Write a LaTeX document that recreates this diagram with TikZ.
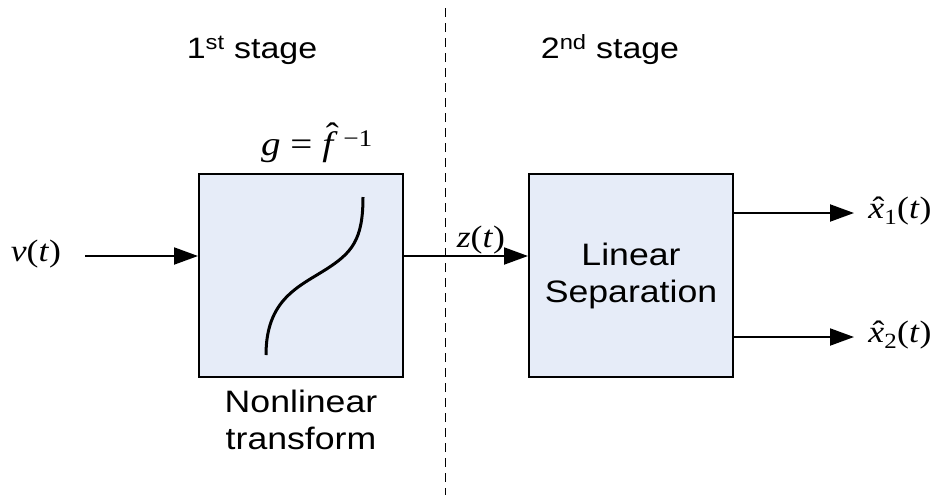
\documentclass[tikz,border=0pt]{standalone}
\usepackage{fontspec}
\setmainfont{Liberation Sans}[FakeStretch=1.15]
\newfontfamily\tmsfont{Liberation Serif}[FakeStretch=1.15]
\usetikzlibrary{positioning,arrows.meta}
\definecolor{boxfill}{RGB}{230,236,248}
\newcommand\bigfont{\fontsize{31}{37}\selectfont}
\newcommand\stagefont{\fontsize{29.5}{35}\selectfont}
\newcommand\mathlbl{\fontsize{31}{37}\tmsfont}
\newsavebox\hatbox
\newcommand\hatit[2][0pt]{\sbox\hatbox{\textit{#2}}\usebox\hatbox\kern-\wd\hatbox\makebox[\wd\hatbox]{\hspace{0.15em}\raisebox{#1}{\char"02C6}}}
\tikzset{block/.style={draw, line width=2pt, fill=boxfill, minimum width=204pt, minimum height=203pt, align=center, font=\bigfont}, line/.style={-{Triangle[length=24pt,width=17pt]}, line width=2pt}, sig/.style={font=\mathlbl}}

\begin{document}
\begin{tikzpicture}[x=1pt,y=-1pt,font=\bigfont]
    \useasboundingbox (0,0) rectangle (942,501);

    \node[font=\stagefont]          (st1) at (252,50) {1\textsuperscript{st} stage};
    \node[font=\stagefont]          (st2) at (610,50) {2\textsuperscript{nd} stage};
    \node[block]                    (nl) at (301,275.5) {};
    \node[block,right=124pt of nl]  (ls) {Linear\\Separation};
    \node[sig,font=\fontsize{34}{40}\tmsfont] (g) at (317,143) {\textit{g} = \hatit[0.28em]{f}\,\textsuperscript{−1}};
    \node[below=8pt of nl,align=center] (nlt) {Nonlinear\\transform};

    \coordinate (in) at (85,256);
    \coordinate (o1) at (854,213);
    \coordinate (o2) at (854,337);
    \coordinate (dtop) at (445,8);
    \coordinate (dbot) at (445,495);
    \node[sig]                      (v) at (36,254) {\textit{v}(\textit{t})};
    \node[sig]                      (x1) at (900,211) {\hatit{x}\textsubscript{1}(\textit{t})};
    \node[sig]                      (x2) at (900,335) {\hatit{x}\textsubscript{2}(\textit{t})};

    \draw[dash pattern=on 9pt off 6pt, line width=1pt] (dtop) -- (dbot);
    \draw[line]               (in) -- (in -| nl.west);
    \draw[line]               (nl.east |- in) -- node[sig,pos=0.62,above=-2pt] (z) {\textit{z}(\textit{t})} (ls.west |- in);
    \draw[line]               (ls.east |- o1) -- (o1);
    \draw[line]               (ls.east |- o2) -- (o2);

    % nonlinearity sketch
    \draw[line width=3pt] (266,355) .. controls (266,300) and (298,287) .. (325,270)
        .. controls (352,253) and (363,240) .. (363,197);
\end{tikzpicture}
\end{document}
